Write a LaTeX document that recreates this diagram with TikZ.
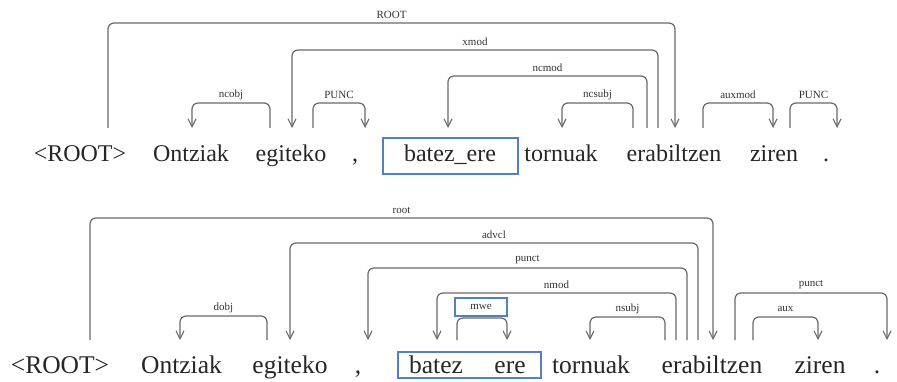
\documentclass[tikz,border=0pt]{standalone}
\usepackage{fontspec}
\setmainfont{Liberation Serif}
\usetikzlibrary{arrows.meta}
\definecolor{arcgray}{RGB}{105,105,105}
\definecolor{boxblue}{RGB}{84,128,190}
\tikzset{
  word/.style={anchor=base, inner sep=0pt, font=\fontsize{24}{24}\selectfont, text=black!85},
  wordb/.style={anchor=base, inner sep=0pt, font=\fontsize{25.5}{25.5}\selectfont, text=black!85},
  deplabel/.style={inner sep=0pt, font=\fontsize{11}{11}\selectfont, text=black!80},
  deparc/.style={draw=arcgray, line width=1.2pt, rounded corners=6pt, -{Straight Barb[length=8pt,width=8pt,line width=1.1pt]}},
  hbox/.style={draw=boxblue, line width=2.5pt},
}
\newcommand{\myarc}[6]{%
  \draw[deparc] (#1,#4) -- (#1,#3) -- (#2,#3) -- (#2,#4);
  \node[deplabel] (#6) at ({(#1+#2)/2},#3-8) {#5};
}
\begin{document}
\begin{tikzpicture}[x=1pt,y=-1pt]
\useasboundingbox (0,0) rectangle (897,382);
% ---------- top sentence ----------
\draw[hbox] (383,138) rectangle (518,174);
\node[word] (t0) at (80,162) {<ROOT>};
\node[word] (t1) at (191,162) {Ontziak};
\node[word] (t2) at (291,162) {egiteko};
\node[word] (t3) at (355,162) {,};
\node[word] (t4) at (450,162) {batez\_ere};
\node[word] (t5) at (561,162) {tornuak};
\node[word] (t6) at (674,162) {erabiltzen};
\node[word] (t7) at (774,162) {ziren};
\node[word] (t8) at (826,162) {.};
\myarc{108}{675}{23}{128}{ROOT}{la1}
\myarc{658}{292}{50}{128}{xmod}{la2}
\myarc{647}{448}{76}{128}{ncmod}{la3}
\myarc{633}{562}{103}{128}{ncsubj}{la4}
\myarc{270}{192}{103}{128}{ncobj}{la5}
\myarc{313}{365}{103}{128}{PUNC}{la6}
\myarc{703}{773}{103}{128}{auxmod}{la7}
\myarc{790}{837}{103}{128}{PUNC}{la8}
% ---------- bottom sentence ----------
\draw[hbox] (398,352) rectangle (541,378);
\node[wordb] (b0) at (60,373) {<ROOT>};
\node[wordb] (b1) at (181.5,373) {Ontziak};
\node[wordb] (b2) at (290,373) {egiteko};
\node[wordb] (b3) at (358,373) {,};
\node[wordb] (b4) at (436,373) {batez};
\node[wordb] (b5) at (510,373) {ere};
\node[wordb] (b6) at (591,373) {tornuak};
\node[wordb] (b7) at (712,373) {erabiltzen};
\node[wordb] (b8) at (820,373) {ziren};
\node[wordb] (b9) at (877,373) {.};
\myarc{90}{713}{218}{340}{root}{lb1}
\myarc{698}{290}{243}{340}{advcl}{lb2}
\myarc{687}{368}{268}{340}{punct}{lb3}
\myarc{676}{437}{293}{340}{nmod}{lb4}
\myarc{665}{590}{317}{340}{nsubj}{lb5}
\myarc{267}{180}{316}{340}{dobj}{lb6}
\myarc{735}{887}{293}{340}{punct}{lb7}
\myarc{753}{818}{317}{340}{aux}{lb8}
\draw[deparc] (457,340) -- (457,318) -- (507,318) -- (507,340);
\draw[draw=boxblue, line width=2pt, fill=white] (455,298) rectangle (507,316);
\node[deplabel] (lb9) at (481,307) {mwe};
\end{tikzpicture}
\end{document}
